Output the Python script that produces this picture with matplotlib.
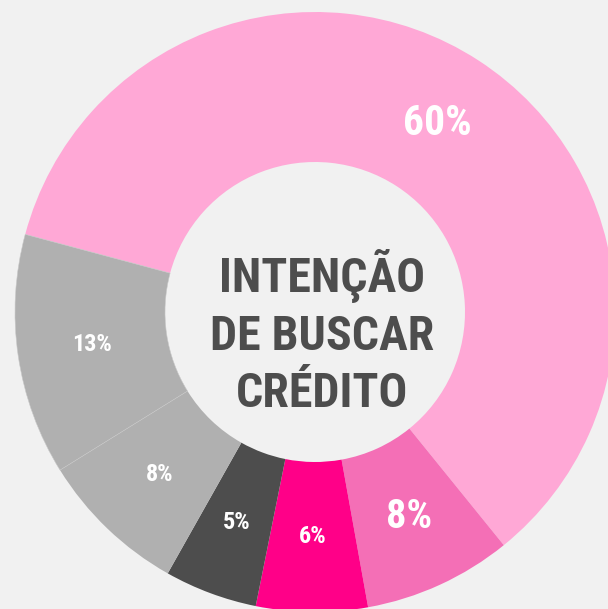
"""Donut chart: intenção de buscar crédito."""

import matplotlib.pyplot as plt

shares = [60, 8, 6, 5, 8, 13]
colors = ["#FFA8D6", "#F46FB6", "#FF0088", "#4D4D4D", "#B0B0B0", "#B0B0B0"]
label_sizes = [30, 29, 17.5, 17.5, 17.5, 17.5]
center_title = "INTENÇÃO\nDE BUSCAR\nCRÉDITO"

FONT = ["Roboto Condensed", "Roboto", "DejaVu Sans"]
BG = "#F1F1F1"

fig = plt.figure(figsize=(6.08, 6.09), dpi=100)
fig.patch.set_facecolor(BG)
ax = fig.add_axes([0, 0, 1, 1])
ax.set_facecolor(BG)

wedges, texts, autotexts = ax.pie(
    shares,
    colors=colors,
    startangle=165,
    counterclock=False,
    center=(315, 297),
    radius=300,
    autopct=lambda p: f"{p:.0f}%",
    pctdistance=0.75,
    wedgeprops=dict(width=150, edgecolor="none", linewidth=0),
)
# faint seam between the two grey slices
wedges[5].set_edgecolor("#C8C8C8")
wedges[5].set_linewidth(0.4)

for t, size in zip(autotexts, label_sizes):
    t.set_color("white")
    t.set_fontsize(size)
    t.set_fontweight("bold")
    t.set_family(FONT)

ax.text(322, 276, center_title, ha="center", va="center", fontsize=34.5,
        fontweight="bold", color="#4D4D4D", family=FONT, linespacing=1.3)

ax.set_xlim(0, 608)
ax.set_ylim(0, 609)
ax.set_aspect("auto")
ax.axis("off")

fig.savefig("out.png", dpi=100, facecolor=BG)
